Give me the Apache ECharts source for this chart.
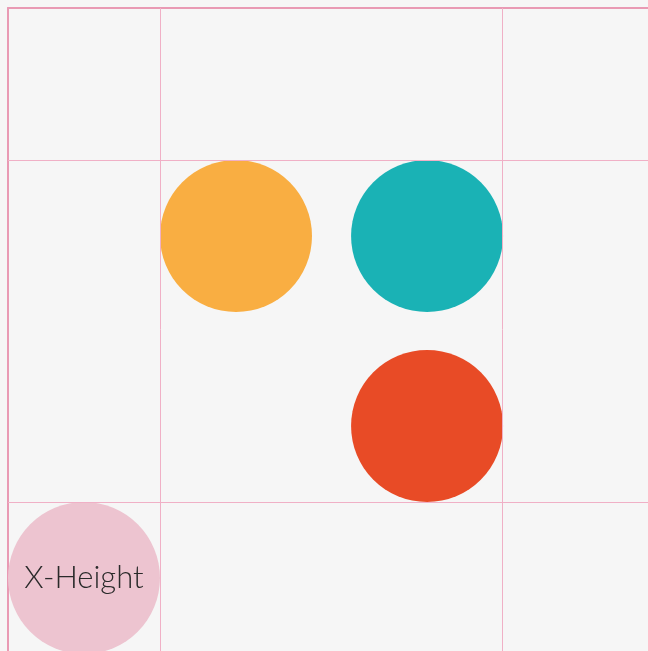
<!DOCTYPE html>
<html>
<head>
<meta charset="utf-8">
<script src="https://cdn.jsdelivr.net/npm/echarts@6/dist/echarts.min.js"></script>
<style>
html, body { margin: 0; padding: 0; background: #f6f6f6; }
#main { width: 648px; height: 651px; }
</style>
</head>
<body>
<div id="main"></div>
<script>
// circles, in units of one circle diameter
var names = ['a', 'b', 'c', 'X-Height'];
var xs = [1.5, 2.757, 2.757, 0.5];
var ys = [1.5, 1.5, 2.75, 3.75];
// guide lines (same units)
var vLines = [1, 3.25];
var hLines = [1, 3.25];

var colors = ['#f9ae42', '#1ab2b5', '#e84b26', '#edc4d0'];

var myChart = echarts.init(document.getElementById('main'));

var pts = [];
for (var i = 0; i < names.length; i++) {
    pts.push({
        name: names[i],
        value: [xs[i], ys[i]],
        itemStyle: { color: colors[i], opacity: 1 },
        label: { show: i == 3 }
    });
}

var guides = [];
for (var i = 0; i < vLines.length; i++) guides.push({ xAxis: vLines[i] });
for (var i = 0; i < hLines.length; i++) guides.push({ yAxis: hLines[i] });

var option = {
    backgroundColor: '#f6f6f6',
    animation: false,
    grid: { left: 8, top: 8, right: 0, bottom: 0 },
    xAxis: {
        type: 'value', min: 0, max: 640 / 152, position: 'top',
        axisLine: { show: true, lineStyle: { color: '#e99ab4', width: 2 } },
        axisTick: { show: false }, axisLabel: { show: false }, splitLine: { show: false }
    },
    yAxis: {
        type: 'value', min: 0, max: 643 / 152, inverse: true,
        axisLine: { show: true, lineStyle: { color: '#e99ab4', width: 2 } },
        axisTick: { show: false }, axisLabel: { show: false }, splitLine: { show: false }
    },
    series: [{
        type: 'scatter',
        clip: false,
        symbolSize: 152,
        data: pts,
        label: {
            position: 'inside',
            formatter: '{b}',
            color: '#2a2a2a',
            fontFamily: 'Lato',
            fontWeight: 300,
            fontSize: 31
        },
        markLine: {
            silent: true,
            symbol: 'none',
            label: { show: false },
            z: 5,
            lineStyle: { color: '#f0b0c6', width: 1, type: 'solid' },
            data: guides
        }
    }]
};
myChart.setOption(option);
</script>
</body>
</html>
